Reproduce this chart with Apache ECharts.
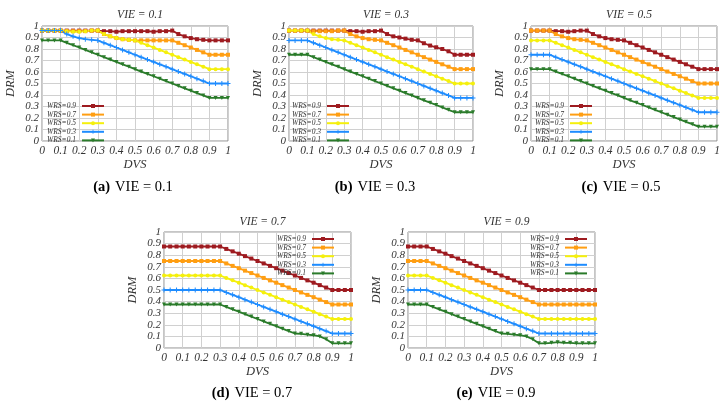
<!DOCTYPE html>
<html>
<head>
<meta charset="utf-8">
<script src="https://cdn.jsdelivr.net/npm/echarts@6/dist/echarts.min.js"></script>
<style>html,body{margin:0;padding:0;background:#fff;}#c{width:727px;height:401px;}</style>
</head>
<body>
<div id="c"></div>
<script>
// DVS sample points
const dvs = [0,0.033,0.067,0.1,0.133,0.167,0.2,0.233,0.267,0.3,0.333,0.367,0.4,0.433,0.467,0.5,0.533,0.567,0.6,0.633,0.667,0.7,0.733,0.767,0.8,0.833,0.867,0.9,0.933,0.967,1];
const wrsNames = ['WRS=0.9','WRS=0.7','WRS=0.5','WRS=0.3','WRS=0.1'];
const vieLabels = ['0.1','0.3','0.5','0.7','0.9'];
const captionLetters = ['a','b','c','d','e'];

// (a) VIE = 0.1
const a9 = [0.96,0.96,0.96,0.96,0.96,0.96,0.96,0.96,0.96,0.96,0.955,0.955,0.95,0.955,0.955,0.955,0.955,0.955,0.95,0.955,0.955,0.96,0.93,0.91,0.895,0.885,0.88,0.875,0.875,0.875,0.875];
const a7 = [0.96,0.96,0.96,0.96,0.955,0.955,0.955,0.955,0.96,0.96,0.93,0.91,0.895,0.885,0.88,0.875,0.875,0.875,0.875,0.875,0.875,0.875,0.854,0.833,0.813,0.792,0.771,0.75,0.75,0.75,0.75];
const a5 = [0.96,0.96,0.96,0.96,0.955,0.95,0.95,0.955,0.96,0.96,0.93,0.91,0.895,0.885,0.88,0.875,0.854,0.833,0.813,0.792,0.771,0.75,0.729,0.708,0.688,0.667,0.646,0.625,0.625,0.625,0.625];
const a3 = [0.96,0.96,0.96,0.96,0.93,0.91,0.895,0.885,0.88,0.875,0.854,0.833,0.813,0.792,0.771,0.75,0.729,0.708,0.688,0.667,0.646,0.625,0.604,0.583,0.563,0.542,0.521,0.5,0.5,0.5,0.5];
const a1 = [0.875,0.875,0.875,0.875,0.854,0.833,0.813,0.792,0.771,0.75,0.729,0.708,0.688,0.667,0.646,0.625,0.604,0.583,0.563,0.542,0.521,0.5,0.479,0.458,0.438,0.417,0.396,0.375,0.375,0.375,0.375];
// (b) VIE = 0.3
const b9 = [0.96,0.96,0.96,0.96,0.96,0.96,0.96,0.96,0.96,0.96,0.955,0.955,0.95,0.955,0.955,0.96,0.93,0.91,0.9,0.89,0.88,0.875,0.85,0.83,0.815,0.8,0.78,0.75,0.75,0.75,0.75];
const b7 = [0.96,0.96,0.96,0.96,0.955,0.955,0.955,0.955,0.96,0.96,0.93,0.91,0.895,0.885,0.88,0.875,0.854,0.833,0.813,0.792,0.771,0.75,0.729,0.708,0.688,0.667,0.646,0.625,0.625,0.625,0.625];
const b5 = [0.96,0.96,0.96,0.96,0.93,0.91,0.895,0.885,0.88,0.875,0.854,0.833,0.813,0.792,0.771,0.75,0.729,0.708,0.688,0.667,0.646,0.625,0.604,0.583,0.563,0.542,0.521,0.5,0.5,0.5,0.5];
const b3 = [0.875,0.875,0.875,0.875,0.854,0.833,0.813,0.792,0.771,0.75,0.729,0.708,0.688,0.667,0.646,0.625,0.604,0.583,0.563,0.542,0.521,0.5,0.479,0.458,0.438,0.417,0.396,0.375,0.375,0.375,0.375];
const b1 = [0.75,0.75,0.75,0.75,0.729,0.708,0.688,0.667,0.646,0.625,0.604,0.583,0.563,0.542,0.521,0.5,0.479,0.458,0.438,0.417,0.396,0.375,0.354,0.333,0.313,0.292,0.271,0.25,0.25,0.25,0.25];
// (c) VIE = 0.5
const c9 = [0.96,0.96,0.96,0.96,0.955,0.955,0.95,0.955,0.96,0.96,0.93,0.91,0.895,0.885,0.88,0.875,0.854,0.833,0.813,0.792,0.771,0.75,0.729,0.708,0.688,0.667,0.646,0.625,0.625,0.625,0.625];
const c7 = [0.96,0.96,0.96,0.96,0.93,0.91,0.895,0.885,0.88,0.875,0.854,0.833,0.813,0.792,0.771,0.75,0.729,0.708,0.688,0.667,0.646,0.625,0.604,0.583,0.563,0.542,0.521,0.5,0.5,0.5,0.5];
const c5 = [0.875,0.875,0.875,0.875,0.854,0.833,0.813,0.792,0.771,0.75,0.729,0.708,0.688,0.667,0.646,0.625,0.604,0.583,0.563,0.542,0.521,0.5,0.479,0.458,0.438,0.417,0.396,0.375,0.375,0.375,0.375];
const c3 = [0.75,0.75,0.75,0.75,0.729,0.708,0.688,0.667,0.646,0.625,0.604,0.583,0.563,0.542,0.521,0.5,0.479,0.458,0.438,0.417,0.396,0.375,0.354,0.333,0.313,0.292,0.271,0.25,0.25,0.25,0.25];
const c1 = [0.625,0.625,0.625,0.625,0.604,0.583,0.563,0.542,0.521,0.5,0.479,0.458,0.438,0.417,0.396,0.375,0.354,0.333,0.313,0.292,0.271,0.25,0.229,0.208,0.188,0.167,0.146,0.125,0.125,0.125,0.125];
// (d) VIE = 0.7
const d9 = [0.875,0.875,0.875,0.875,0.875,0.875,0.875,0.875,0.875,0.875,0.854,0.833,0.813,0.792,0.771,0.75,0.729,0.708,0.688,0.667,0.646,0.625,0.604,0.583,0.563,0.542,0.521,0.5,0.5,0.5,0.5];
const d7 = [0.75,0.75,0.75,0.75,0.75,0.75,0.75,0.75,0.75,0.75,0.729,0.708,0.688,0.667,0.646,0.625,0.604,0.583,0.563,0.542,0.521,0.5,0.479,0.458,0.438,0.417,0.396,0.375,0.375,0.375,0.375];
const d5 = [0.625,0.625,0.625,0.625,0.625,0.625,0.625,0.625,0.625,0.625,0.604,0.583,0.563,0.542,0.521,0.5,0.479,0.458,0.438,0.417,0.396,0.375,0.354,0.333,0.313,0.292,0.271,0.25,0.25,0.25,0.25];
const d3 = [0.5,0.5,0.5,0.5,0.5,0.5,0.5,0.5,0.5,0.5,0.479,0.458,0.438,0.417,0.396,0.375,0.354,0.333,0.313,0.292,0.271,0.25,0.229,0.208,0.188,0.167,0.146,0.125,0.125,0.125,0.125];
const d1 = [0.375,0.375,0.375,0.375,0.375,0.375,0.375,0.375,0.375,0.375,0.354,0.333,0.313,0.292,0.271,0.25,0.229,0.208,0.188,0.167,0.146,0.125,0.122,0.115,0.11,0.1,0.075,0.04,0.04,0.04,0.04];
// (e) VIE = 0.9
const e9 = [0.875,0.875,0.875,0.875,0.854,0.833,0.813,0.792,0.771,0.75,0.729,0.708,0.688,0.667,0.646,0.625,0.604,0.583,0.563,0.542,0.521,0.5,0.5,0.5,0.5,0.5,0.5,0.5,0.5,0.5,0.5];
const e7 = [0.75,0.75,0.75,0.75,0.729,0.708,0.688,0.667,0.646,0.625,0.604,0.583,0.563,0.542,0.521,0.5,0.479,0.458,0.438,0.417,0.396,0.375,0.375,0.375,0.375,0.375,0.375,0.375,0.375,0.375,0.375];
const e5 = [0.625,0.625,0.625,0.625,0.604,0.583,0.563,0.542,0.521,0.5,0.479,0.458,0.438,0.417,0.396,0.375,0.354,0.333,0.313,0.292,0.271,0.25,0.25,0.25,0.25,0.25,0.25,0.25,0.25,0.25,0.25];
const e3 = [0.5,0.5,0.5,0.5,0.479,0.458,0.438,0.417,0.396,0.375,0.354,0.333,0.313,0.292,0.271,0.25,0.229,0.208,0.188,0.167,0.146,0.125,0.125,0.125,0.125,0.125,0.125,0.125,0.125,0.125,0.125];
const e1 = [0.375,0.375,0.375,0.375,0.354,0.333,0.313,0.292,0.271,0.25,0.229,0.208,0.188,0.167,0.146,0.125,0.122,0.115,0.11,0.1,0.075,0.04,0.04,0.045,0.05,0.045,0.045,0.04,0.04,0.04,0.04];

const panels = [[a9,a7,a5,a3,a1],[b9,b7,b5,b3,b1],[c9,c7,c5,c3,c1],[d9,d7,d5,d3,d1],[e9,e7,e5,e3,e1]];

// layout / styles
const grids = [
  {left:42, top:26, width:186, height:115},
  {left:289, top:26, width:184, height:115},
  {left:531, top:26, width:186, height:115},
  {left:164, top:232, width:187, height:116},
  {left:408, top:232, width:187, height:116}
];
const captionX = [128, 370, 616, 247, 491];
const captionY = [173, 173, 173, 379, 379];
const titleY = [4, 4, 4, 211, 211];
const legendPos = [
  {left:47, top:102}, {left:292, top:102}, {left:535, top:102},
  {left:277, top:235}, {left:530, top:235}
];
const colors = ['#9e1b20','#ff9e12','#f5f00c','#1e8cff','#2a7b2a'];
const symbols = ['rect','rect','circle','path://M4,0H6V4H10V6H6V10H4V6H0V4H4Z','triangle'];
const symbolSizes = [4,4,4,5,4];
const serif = 'Liberation Serif';

const option = {
  animation:false,
  backgroundColor:'#fff',
  grid: grids.map(g => Object.assign({show:true, borderColor:'#8c8c8c', borderWidth:1, backgroundColor:'transparent'}, g)),
  xAxis: grids.map((g,i) => ({
    type:'value', gridIndex:i, min:0, max:1, interval:0.1,
    name:'DVS', nameLocation:'middle', nameGap:14,
    nameTextStyle:{fontFamily:serif, fontStyle:'italic', fontSize:12.5, color:'#333'},
    axisLine:{show:false}, axisTick:{show:false},
    axisLabel:{fontFamily:serif, fontStyle:'italic', fontSize:11.5, color:'#333', margin:4},
    splitLine:{show:true, lineStyle:{color:'#d0d0d0', width:1}}
  })),
  yAxis: grids.map((g,i) => ({
    type:'value', gridIndex:i, min:0, max:1, interval:0.1,
    name:'DRM', nameLocation:'middle', nameGap:25,
    nameTextStyle:{fontFamily:serif, fontStyle:'italic', fontSize:12.5, color:'#333'},
    axisLine:{show:false}, axisTick:{show:false},
    axisLabel:{fontFamily:serif, fontStyle:'italic', fontSize:11, color:'#333', margin:3},
    splitLine:{show:true, lineStyle:{color:'#d0d0d0', width:1}}
  })),
  title: [].concat(
    grids.map((g,i) => ({
      text:'VIE = ' + vieLabels[i], left: g.left + g.width/2, top: titleY[i], textAlign:'center',
      textStyle:{fontFamily:serif, fontStyle:'italic', fontWeight:'normal', fontSize:11.5, color:'#333'}
    })),
    grids.map((g,i) => ({
      text:'{b|(' + captionLetters[i] + ')} {n|VIE = ' + vieLabels[i] + '}',
      left: captionX[i], top: captionY[i], textAlign:'center',
      textStyle:{rich:{
        b:{fontFamily:serif, fontWeight:'bold', fontSize:14.5, color:'#000'},
        n:{fontFamily:serif, fontWeight:'normal', fontSize:14.5, color:'#000'}
      }}
    }))
  ),
  legend: legendPos.map(p => ({
    left:p.left, top:p.top, orient:'vertical', align:'right',
    itemWidth:22, itemHeight:5, itemGap:0.6, padding:0,
    data: wrsNames,
    textStyle:{fontFamily:serif, fontStyle:'italic', fontSize:7.5, color:'#333', padding:[0,1,0,0]},
    selectedMode:false
  })),
  series: []
};

panels.forEach((panel, pi) => {
  panel.forEach((vals, si) => {
    option.series.push({
      type:'line', name: wrsNames[si], xAxisIndex:pi, yAxisIndex:pi,
      data: dvs.map((x,k) => [x, vals[k]]),
      symbol: symbols[si], symbolSize: symbolSizes[si], symbolRotate: si === 4 ? 180 : 0,
      showSymbol:true,
      lineStyle:{color:colors[si], width:1.8},
      itemStyle:{color:colors[si]},
      emphasis:{disabled:true}
    });
  });
});

const chart = echarts.init(document.getElementById('c'), null, {renderer:'canvas'});
chart.setOption(option);
</script>
</body>
</html>
